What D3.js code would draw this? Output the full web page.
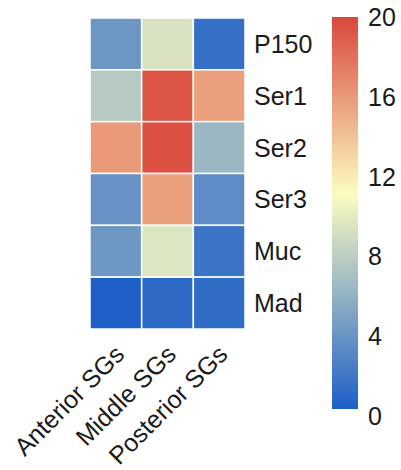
<!DOCTYPE html>
<html>
<head>
<meta charset="utf-8">
<script src="https://cdn.jsdelivr.net/npm/d3@7"></script>
<style>
  body { margin: 0; background: #fff; }
  text { font-family: "Liberation Sans", Arial, sans-serif; fill: #1a1a1a; }
</style>
</head>
<body>
<div id="chart"></div>
<script>
// rows and columns of the heatmap
const genes = ["P150", "Ser1", "Ser2", "Ser3", "Muc", "Mad"];
const tissues = ["Anterior SGs", "Middle SGs", "Posterior SGs"];
// one array per tissue, values in gene order
const anterior = [3.9, 7.5, 15.9, 3.6, 4.0, 0.0];
const middle = [9.2, 19.4, 19.6, 15.6, 9.4, 0.8];
const posterior = [1.2, 15.6, 6.2, 3.1, 1.5, 0.9];
const legendTicks = [0, 4, 8, 12, 16, 20];

const series = [anterior, middle, posterior];
const cells = [];
genes.forEach((g, i) => {
    tissues.forEach((t, j) => {
        cells.push({ gene: g, tissue: t, value: series[j][i] });
    });
});

const W = 401, H = 470;
const svg = d3.select("#chart").append("svg")
    .attr("width", W)
    .attr("height", H);

const x = d3.scaleBand().domain(tissues).range([90, 245]);
const y = d3.scaleBand().domain(genes).range([18, 329]);

// blue -> pale yellow -> red
const color = d3.scaleLinear()
    .domain([0, 11, 20])
    .range(["#1d5fc7", "#fdfcc0", "#d9483d"])
    .interpolate(d3.interpolateRgb)
    .clamp(true);

// cells
svg.append("g").selectAll("rect")
    .data(cells)
    .enter()
    .append("rect")
    .attr("x", d => x(d.tissue))
    .attr("y", d => y(d.gene))
    .attr("width", x.bandwidth())
    .attr("height", y.bandwidth())
    .attr("fill", d => color(d.value))
    .attr("stroke", "#fff")
    .attr("stroke-width", 1.5);

// row labels
svg.append("g").selectAll("text")
    .data(genes)
    .enter()
    .append("text")
    .attr("x", 254)
    .attr("y", d => y(d) + y.bandwidth() / 2)
    .attr("dy", "0.36em")
    .style("font-size", "25px")
    .text(d => d);

// column labels, rotated
svg.append("g").selectAll("text")
    .data(tissues)
    .enter()
    .append("text")
    .attr("transform", d => `translate(${x(d) + x.bandwidth() / 2 + 10},356) rotate(-45)`)
    .attr("text-anchor", "end")
    .style("font-size", "25px")
    .text(d => d);

// colour legend
const ly = d3.scaleLinear().domain([0, 20]).range([416, 17]);
const defs = svg.append("defs");
const grad = defs.append("linearGradient")
    .attr("id", "legendGrad")
    .attr("x1", 0).attr("y1", 1)
    .attr("x2", 0).attr("y2", 0);
d3.range(0, 20.01, 1).forEach(v => {
    grad.append("stop")
        .attr("offset", v / 20)
        .attr("stop-color", color(v));
});

const barBottom = 409;
svg.append("rect")
    .attr("x", 332)
    .attr("y", ly(20))
    .attr("width", 26)
    .attr("height", barBottom - ly(20))
    .attr("fill", "url(#legendGrad)");

svg.append("g").selectAll("text")
    .data(legendTicks)
    .enter()
    .append("text")
    .attr("x", 368)
    .attr("y", d => ly(d))
    .attr("dy", "0.36em")
    .style("font-size", "25px")
    .text(d => d);
</script>
</body>
</html>
